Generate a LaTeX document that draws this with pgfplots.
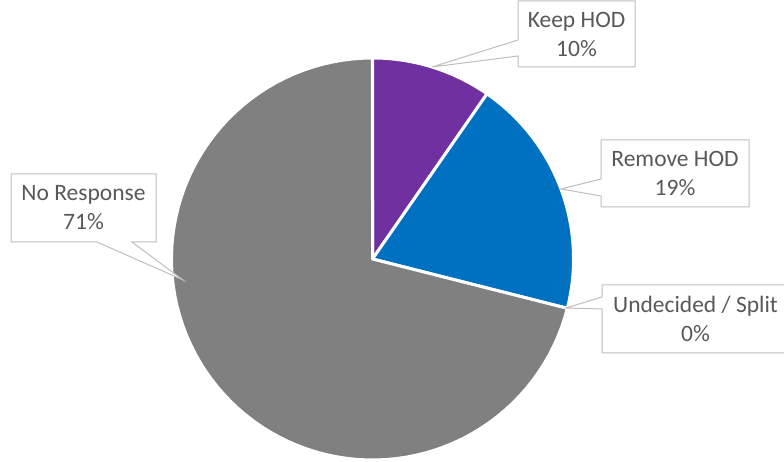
\documentclass[border=0pt]{standalone}
\usepackage{pgfplots}
\usepackage{pgfplotstable}
\pgfplotsset{compat=1.18}
\usepackage{fontspec}
\setmainfont{Carlito}
\definecolor{keep}{HTML}{7030A0}
\definecolor{remove}{HTML}{0070C0}
\definecolor{undec}{HTML}{A5A5A5}
\definecolor{nores}{HTML}{808080}
\definecolor{txt}{HTML}{595959}
\definecolor{bord}{HTML}{BFBFBF}
\pgfplotstableread{
label value
Keep 11
Remove 22
Undecided 0
NoResponse 81
}\piedata
\begin{document}
\begin{tikzpicture}
\pgfplotstablegetelem{0}{value}\of\piedata \let\va\pgfplotsretval
\pgfplotstablegetelem{1}{value}\of\piedata \let\vb\pgfplotsretval
\pgfplotstablegetelem{2}{value}\of\piedata \let\vc\pgfplotsretval
\pgfplotstablegetelem{3}{value}\of\piedata \let\vd\pgfplotsretval
\pgfmathsetmacro{\total}{\va+\vb+\vc+\vd}
\pgfmathsetmacro{\aA}{90}
\pgfmathsetmacro{\aB}{\aA-360*(\va/\total)}
\pgfmathsetmacro{\aC}{\aB-360*(\vb/\total)}
\pgfmathsetmacro{\aD}{\aC-360*(\vc/\total)}
\pgfmathsetmacro{\aE}{\aD-360*(\vd/\total)}
\begin{axis}[hide axis, scale only axis, width=784pt, height=462pt,
  xmin=0, xmax=784, ymin=0, ymax=462, clip=false]
\pgfplotsset{slice/.style={draw=white, line width=3pt, line join=round, samples=90, variable=\t}}
\addplot[slice, fill=keep, domain=\aB:\aA] ({372.5+201*cos(\t)},{203+201*sin(\t)}) -- (axis cs:372.5,203) -- cycle;
\addplot[slice, fill=remove, domain=\aC:\aB] ({372.5+201*cos(\t)},{203+201*sin(\t)}) -- (axis cs:372.5,203) -- cycle;
% Undecided / Split has a value of 0 and so no visible slice
\addplot[slice, fill=nores, domain=\aE:\aD] ({372.5+201*cos(\t)},{203+201*sin(\t)}) -- (axis cs:372.5,203) -- cycle;
% callouts
\begin{scope}[draw=bord, line width=1pt, fill=white]
\filldraw (axis cs:518,461) -- (axis cs:635,461) -- (axis cs:635,395) -- (axis cs:518,395) -- (axis cs:518,406) -- (axis cs:432,395) -- (axis cs:518,422) -- cycle;
\filldraw (axis cs:601,322) -- (axis cs:749,322) -- (axis cs:749,255) -- (axis cs:601,255) -- (axis cs:601,266) -- (axis cs:561,273) -- (axis cs:601,283) -- cycle;
\filldraw (axis cs:602,177) -- (axis cs:792,177) -- (axis cs:792,109) -- (axis cs:602,109) -- (axis cs:602,153) -- (axis cs:566,154) -- (axis cs:602,165) -- cycle;
\filldraw (axis cs:11,288) -- (axis cs:156,288) -- (axis cs:156,220) -- (axis cs:132,220) -- (axis cs:183,182) -- (axis cs:97,220) -- (axis cs:11,220) -- cycle;
\end{scope}
\begin{scope}[every node/.style={align=center, text=txt, font=\fontsize{23.5}{29}\selectfont, inner sep=0pt}]
\node at (axis cs:576.5,428) {Keep HOD\\10\%};
\node at (axis cs:675,288.5) {Remove HOD\\19\%};
\node at (axis cs:695.5,143) {Undecided / Split\\0\%};
\node at (axis cs:83.5,254) {No Response\\71\%};
\end{scope}
\end{axis}
\pgfresetboundingbox
\path (current axis.south west) rectangle (current axis.north east);
\end{tikzpicture}
\end{document}
